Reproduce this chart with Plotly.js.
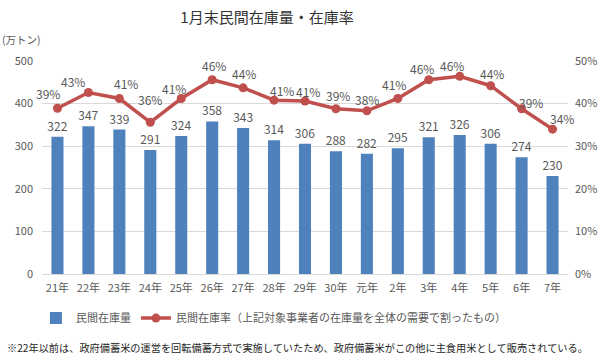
<!DOCTYPE html>
<html><head><meta charset="utf-8">
<script src="https://cdn.plot.ly/plotly-3.0.1.min.js"></script>
<style>body{margin:0;background:#fff}#c{width:600px;height:355px}</style>
</head><body><div id="c"></div>
<script>
const years = ['21年','22年','23年','24年','25年','26年','27年','28年','29年','30年','元年','2年','3年','4年','5年','6年','7年'];
const stock = [322,347,339,291,324,358,343,314,306,288,282,295,321,326,306,274,230];
const rate = [0.389,0.426,0.412,0.356,0.412,0.456,0.437,0.408,0.406,0.388,0.383,0.412,0.456,0.464,0.442,0.388,0.340];
// pixel offsets of each rate label from its marker (layout only)
const labelDx = [-9,-15,7,0,-7,2,1,8,3,2,0,-4,-7,-8,1,9,9];
const labelDy = [15,11,15,23,10,14,14,10,10,13,11,14,11,11,12,6,11];

const F = '"Noto Sans CJK JP", "Noto Sans", sans-serif';
const gray = '#595959';
const data = [
  {type:'bar', x:years, y:stock, name:'民間在庫量', marker:{color:'#4f81bd'},
   texttemplate:'%{y}', textposition:'outside', cliponaxis:false, constraintext:'none',
   textfont:{family:F,size:12,color:gray}, hoverinfo:'skip'},
  {type:'scatter', mode:'lines+markers', x:years, y:rate, yaxis:'y2',
   name:'民間在庫率（上記対象事業者の在庫量を全体の需要で割ったもの）',
   line:{color:'#c0504d',width:3.5}, marker:{color:'#c0504d',size:9},
   cliponaxis:false, hoverinfo:'skip'}
];
const rateLabels = rate.map((v,i)=>({
  x:years[i], y:v, xref:'x', yref:'y2', text:Math.round(v*100)+'%',
  showarrow:false, xanchor:'center', yanchor:'middle',
  xshift:labelDx[i], yshift:labelDy[i],
  font:{family:F,size:12,color:gray}
}));
const layout = {
  width:600, height:355, margin:{l:42,r:32,t:61,b:81,autoexpand:false},
  paper_bgcolor:'#fff', plot_bgcolor:'#fff',
  font:{family:F,color:gray,size:11},
  title:{text:'1月末民間在庫量・在庫率', x:0.445, xanchor:'center', y:0.95, yanchor:'middle',
         font:{family:F,size:15,color:'#333333'}},
  bargap:0.61, showlegend:true,
  xaxis:{type:'category', range:[-0.5, years.length-0.5], showgrid:false, zeroline:false,
         showline:true, linecolor:'#d9d9d9',
         ticks:'', ticklabelstandoff:4, tickfont:{family:F,size:11,color:gray}},
  yaxis:{range:[0,500], dtick:100, gridcolor:'#d9d9d9', zeroline:false, showline:false,
         tickfont:{family:F,size:11,color:gray}, ticks:'', ticklabelstandoff:8},
  yaxis2:{range:[0,0.5], dtick:0.1, tickformat:'.0%', overlaying:'y', side:'right',
          showgrid:false, zeroline:false, ticklabelstandoff:6,
          tickfont:{family:F,size:11,color:gray}},
  legend:{orientation:'h', x:0.44, xanchor:'center', y:-0.207, yanchor:'middle',
          font:{family:F,size:11,color:gray}, traceorder:'normal'},
  annotations:[
    {text:'(万トン)', xref:'paper', yref:'paper', x:-0.08, y:1.103, xanchor:'left', yanchor:'middle',
     showarrow:false, font:{family:F,size:10.5,color:gray}},
    {text:'※22年以前は、政府備蓄米の運営を回転備蓄方式で実施していたため、政府備蓄米がこの他に主食用米として販売されている。',
     xref:'paper', yref:'paper', x:-0.07, y:-0.345, xanchor:'left', yanchor:'middle',
     showarrow:false, font:{family:F,size:10.2,color:'#262626'}}
  ].concat(rateLabels)
};
Plotly.newPlot('c', data, layout, {displayModeBar:false, staticPlot:true});
</script></body></html>
